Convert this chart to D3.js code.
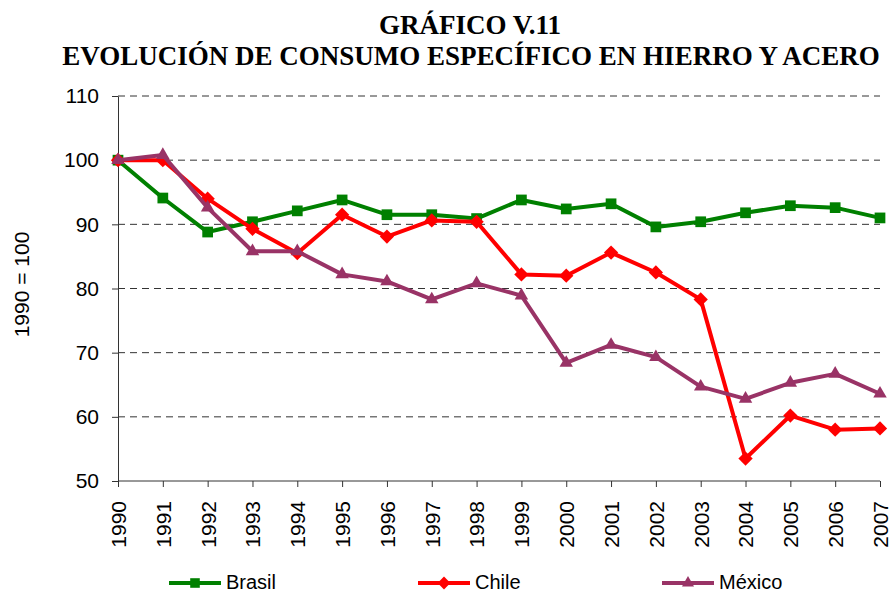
<!DOCTYPE html>
<html>
<head>
<meta charset="utf-8">
<script src="https://cdn.jsdelivr.net/npm/d3@7"></script>
<style>
  body { margin: 0; background: #fff; }
  svg { display: block; }
</style>
</head>
<body>
<svg id="chart" width="890" height="594"></svg>
<script>
const years = ['1990', '1991', '1992', '1993', '1994', '1995', '1996', '1997', '1998',
  '1999', '2000', '2001', '2002', '2003', '2004', '2005', '2006', '2007'];
const brasil = [100, 94.1, 88.8, 90.4, 92.1, 93.8, 91.5, 91.5, 90.9, 93.8, 92.4, 93.2, 89.6, 90.4, 91.8, 92.9, 92.6, 91.0];
const chile = [100, 100, 94.0, 89.3, 85.5, 91.5, 88.1, 90.6, 90.4, 82.2, 82.0, 85.6, 82.5, 78.3, 53.5, 60.2, 58.0, 58.2];
const mexico = [100, 100.8, 92.6, 85.8, 85.8, 82.2, 81.1, 78.3, 80.8, 78.9, 68.4, 71.2, 69.3, 64.7, 62.8, 65.3, 66.7, 63.6];
const yTicks = [50, 60, 70, 80, 90, 100, 110];

const series = [
  { name: 'Brasil', values: brasil, color: '#008000', symbol: d3.symbolSquare, size: 115 },
  { name: 'Chile', values: chile, color: '#ff0000', symbol: d3.symbolDiamond2, size: 130 },
  { name: 'México', values: mexico, color: '#993366', symbol: d3.symbolTriangle2, size: 130 }
];

const svg = d3.select('#chart');
const m = { left: 118, right: 880, top: 96, bottom: 481 };
const sans = '"Liberation Sans", Arial, sans-serif';

const x = d3.scalePoint().domain(years).range([m.left, m.right]);
const y = d3.scaleLinear().domain([50, 110]).range([m.bottom, m.top]);

// title
const title = svg.append('text')
  .attr('text-anchor', 'middle')
  .attr('font-family', '"Liberation Serif", "Times New Roman", serif')
  .attr('font-weight', 'bold')
  .attr('font-size', 27);
title.append('tspan').attr('x', 470).attr('y', 34).text('GRÁFICO V.11');
title.append('tspan').attr('x', 471).attr('y', 65).text('EVOLUCIÓN DE CONSUMO ESPECÍFICO EN HIERRO Y ACERO');

// gridlines
svg.append('g')
  .selectAll('line')
  .data(yTicks.filter(d => d > 50))
  .join('line')
  .attr('x1', m.left)
  .attr('x2', m.right)
  .attr('y1', d => y(d))
  .attr('y2', d => y(d))
  .attr('stroke', '#333')
  .attr('stroke-width', 1)
  .attr('stroke-dasharray', '7,5');

// y axis
const yAxis = svg.append('g')
  .attr('transform', `translate(${m.left},0)`)
  .call(d3.axisLeft(y).tickValues(yTicks).tickSize(6).tickPadding(13).tickSizeOuter(0));
yAxis.select('.domain').attr('stroke', '#333');
yAxis.selectAll('line').attr('stroke', '#333');
yAxis.selectAll('text')
  .attr('font-family', sans)
  .attr('font-size', 21)
  .attr('fill', '#000');

svg.append('text')
  .attr('transform', `translate(22,${(m.top + m.bottom) / 2 - 4}) rotate(-90)`)
  .attr('text-anchor', 'middle')
  .attr('dy', '0.35em')
  .attr('font-family', sans)
  .attr('font-size', 21)
  .text('1990 = 100');

// x axis
const xAxis = svg.append('g')
  .attr('transform', `translate(0,${m.bottom})`)
  .call(d3.axisBottom(x).tickSize(6).tickSizeOuter(0));
xAxis.select('.domain').attr('stroke', '#333').attr('d', `M${m.left},0H${m.right}`);
xAxis.selectAll('line').attr('stroke', '#333');
xAxis.selectAll('text')
  .attr('font-family', sans)
  .attr('font-size', 21)
  .attr('fill', '#000')
  .attr('transform', 'rotate(-90)')
  .attr('text-anchor', 'end')
  .attr('x', -20)
  .attr('y', 0)
  .attr('dy', '0.35em');

// lines and markers
const line = d3.line()
  .x((d, i) => x(years[i]))
  .y(d => y(d));

series.forEach(s => {
  const g = svg.append('g');
  g.append('path')
    .attr('fill', 'none')
    .attr('stroke', s.color)
    .attr('stroke-width', 4)
    .attr('stroke-linejoin', 'round')
    .attr('d', line(s.values));
  g.selectAll('path.mark')
    .data(s.values)
    .join('path')
    .attr('class', 'mark')
    .attr('transform', (d, i) => `translate(${x(years[i])},${y(d)})`)
    .attr('fill', s.color)
    .attr('d', d3.symbol().type(s.symbol).size(s.size));
});

// legend
const legendX = [169, 418, 662];
series.forEach((s, i) => {
  const g = svg.append('g').attr('transform', `translate(${legendX[i]},583)`);
  g.append('line')
    .attr('x1', 0).attr('x2', 52)
    .attr('stroke', s.color)
    .attr('stroke-width', 4);
  g.append('path')
    .attr('transform', 'translate(26,0)')
    .attr('fill', s.color)
    .attr('d', d3.symbol().type(s.symbol).size(s.size * 0.8));
  g.append('text')
    .attr('x', 57)
    .attr('dy', '0.3em')
    .attr('font-family', sans)
    .attr('font-size', 20)
    .text(s.name);
});
</script>
</body>
</html>
